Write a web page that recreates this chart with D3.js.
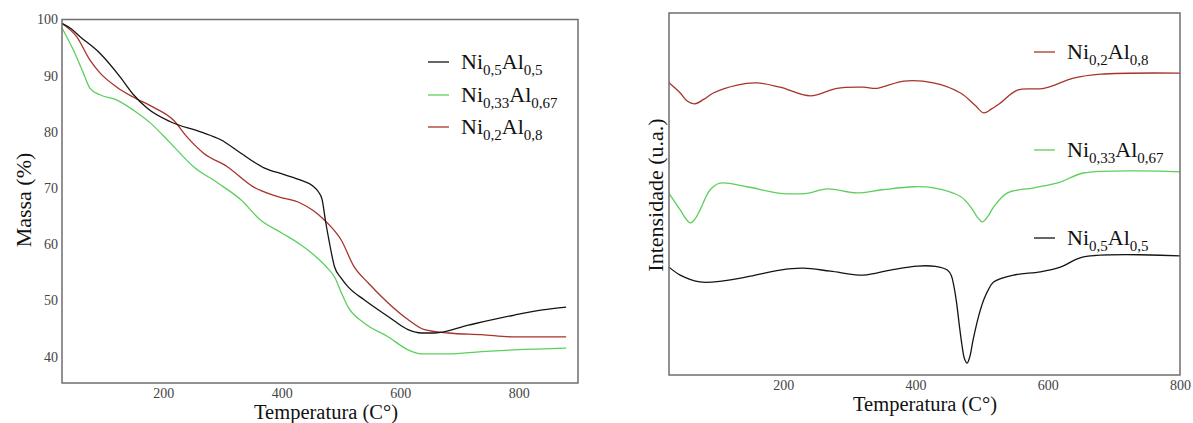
<!DOCTYPE html>
<html>
<head>
<meta charset="utf-8">
<script src="https://cdn.jsdelivr.net/npm/d3@7"></script>
<style>
  body { margin: 0; background: #fff; }
  svg { display: block; font-family: "Liberation Serif", "Times New Roman", serif; }
</style>
</head>
<body>
<svg id="chart" width="1193" height="423"></svg>
<script>
// TGA (left): [temperatura, massa %]
const tgaNi05 = [[29,99.3],[45,98.3],[60,96.9],[93,94.0],[127,89.8],[149,86.7],[173,84.2],[212,81.8],[263,80.0],[297,78.6],[331,76.2],[370,73.6],[404,72.4],[432,71.4],[452,70.4],[462,69.3],[468,68.0],[474,64.0],[480,60.5],[489,56.0],[500,54.0],[512,52.4],[539,50.1],[580,47.1],[613,44.8],[636,44.2],[658,44.2],[715,45.6],[793,47.4],[840,48.3],[880,48.8]];
const tgaNi033 = [[29,98.5],[48,94.6],[65,90.5],[76,87.8],[93,86.6],[121,85.7],[149,83.9],[178,81.6],[212,78.0],[251,73.8],[292,70.9],[331,67.9],[364,64.3],[400,62.0],[432,59.9],[453,58.2],[475,56.0],[490,54.0],[500,51.5],[512,48.8],[539,46.0],[580,43.5],[613,41.2],[636,40.5],[681,40.5],[737,40.9],[793,41.2],[880,41.5]];
const tgaNi02 = [[29,99.3],[54,96.9],[76,92.8],[93,90.5],[121,88.0],[149,86.2],[183,84.4],[217,82.1],[240,79.1],[268,76.2],[308,73.8],[352,70.2],[392,68.5],[432,67.3],[453,66.0],[470,64.5],[484,63.0],[500,60.8],[522,56.0],[546,53.1],[580,49.5],[613,46.6],[641,44.8],[681,44.2],[737,43.9],[793,43.5],[880,43.5]];

// DTA (right): [temperatura, intensidade u.a.]
const dtaNi02 = [[27,80.7],[44,77.9],[55,75.6],[66,74.9],[80,76.2],[94,77.9],[130,80.1],[160,80.7],[195,79.5],[241,77.1],[281,79.2],[321,79.5],[342,79.2],[382,81.2],[427,80.7],[468,77.9],[490,74.5],[503,72.4],[515,73.5],[528,75.1],[554,78.7],[594,79.2],[639,82.0],[680,83.1],[800,83.4]];
const dtaNi033 = [[27,50.2],[44,45.6],[52,43.3],[59,42.0],[66,43.0],[74,45.6],[89,51.1],[104,53.0],[145,52.0],[195,50.2],[236,50.2],[266,51.4],[311,50.3],[347,51.1],[397,52.0],[427,51.7],[468,49.3],[485,46.0],[493,43.7],[501,42.3],[510,44.0],[518,46.4],[539,50.3],[579,51.7],[619,53.3],[654,55.8],[800,56.1]];
const dtaNi05 = [[27,29.8],[44,27.6],[74,25.7],[109,26.0],[150,27.3],[195,29.0],[230,29.5],[271,28.7],[321,27.6],[362,29.0],[403,30.1],[430,30.0],[448,29.0],[454,27.5],[458,24.5],[462,20.0],[466,14.0],[470,8.5],[474,4.5],[478,3.3],[482,5.0],[487,9.7],[495,16.0],[503,20.7],[510,23.5],[518,25.7],[548,27.6],[589,28.5],[619,29.8],[654,32.6],[800,32.9]];

const xTicks = [200, 400, 600, 800];
const massaTicks = [40, 50, 60, 70, 80, 90, 100];

const cBlack = "#141414", cGreen = "#5ccf5c", cRed = "#a8332b";

const svg = d3.select("#chart");

function frame(g, x, y) {
  g.append("rect")
    .attr("x", x.range()[0]).attr("y", y.range()[1])
    .attr("width", x.range()[1] - x.range()[0])
    .attr("height", y.range()[0] - y.range()[1])
    .attr("fill", "none").attr("stroke", "#6e6e6e").attr("stroke-width", 1.5);
}

function styleAxis(sel) {
  sel.select(".domain").remove();
  sel.selectAll("text").attr("font-size", "14px").attr("fill", "#444")
    .attr("font-family", "Liberation Serif, serif");
}

function legend(g, x0, y0, color, a, b) {
  g.append("line").attr("x1", x0).attr("x2", x0 + 21).attr("y1", y0).attr("y2", y0)
    .attr("stroke", color).attr("stroke-width", 1.3);
  const t = g.append("text").attr("x", x0 + 33).attr("y", y0 + 7)
    .attr("font-size", "22px").attr("fill", "#111");
  t.append("tspan").text("Ni");
  t.append("tspan").attr("dy", 6).attr("font-size", "15px").text(a);
  t.append("tspan").attr("dy", -6).text("Al");
  t.append("tspan").attr("dy", 6).attr("font-size", "15px").text(b);
}

// ---- Left: TGA
const xL = d3.scaleLinear().domain([29, 900]).range([62, 578]);
const yL = d3.scaleLinear().domain([35.3, 100]).range([383, 19.5]);
const gL = svg.append("g");

gL.append("g").attr("transform", "translate(0,383)")
  .call(d3.axisBottom(xL).tickValues(xTicks).tickSize(0).tickPadding(5)).call(styleAxis);
gL.append("g").attr("transform", "translate(62,0)")
  .call(d3.axisLeft(yL).tickValues(massaTicks).tickSize(0).tickPadding(4)).call(styleAxis);

const lineL = d3.line().x(d => xL(d[0])).y(d => yL(d[1])).curve(d3.curveMonotoneX);
[[tgaNi033, cGreen], [tgaNi02, cRed], [tgaNi05, cBlack]].forEach(([s, c]) => {
  gL.append("path").datum(s).attr("d", lineL).attr("fill", "none")
    .attr("stroke", c).attr("stroke-width", 1.3);
});
frame(gL, xL, yL);

gL.append("text").attr("x", 326).attr("y", 419).attr("text-anchor", "middle")
  .attr("font-size", "20.5px").attr("fill", "#111").text("Temperatura (C°)");
gL.append("text").attr("transform", "translate(31,200) rotate(-90)").attr("text-anchor", "middle")
  .attr("font-size", "22px").attr("fill", "#111").text("Massa (%)");

legend(gL, 428, 62, cBlack, "0,5", "0,5");
legend(gL, 428, 95, cGreen, "0,33", "0,67");
legend(gL, 428, 127, cRed, "0,2", "0,8");

// ---- Right: DTA
const xR = d3.scaleLinear().domain([27, 800]).range([669, 1180]);
const yR = d3.scaleLinear().domain([0, 100]).range([375, 13]);
const gR = svg.append("g");

gR.append("g").attr("transform", "translate(0,375)")
  .call(d3.axisBottom(xR).tickValues(xTicks).tickSize(0).tickPadding(5)).call(styleAxis);

const lineR = d3.line().x(d => xR(d[0])).y(d => yR(d[1])).curve(d3.curveCatmullRom.alpha(0.5));
[[dtaNi02, cRed], [dtaNi033, cGreen], [dtaNi05, cBlack]].forEach(([s, c]) => {
  gR.append("path").datum(s).attr("d", lineR).attr("fill", "none")
    .attr("stroke", c).attr("stroke-width", 1.3);
});
frame(gR, xR, yR);

gR.append("text").attr("x", 925).attr("y", 411).attr("text-anchor", "middle")
  .attr("font-size", "20.5px").attr("fill", "#111").text("Temperatura (C°)");
gR.append("text").attr("transform", "translate(663,195) rotate(-90)").attr("text-anchor", "middle")
  .attr("font-size", "22px").attr("fill", "#111").text("Intensidade (u.a.)");

legend(gR, 1034, 52, cRed, "0,2", "0,8");
legend(gR, 1034, 150, cGreen, "0,33", "0,67");
legend(gR, 1034, 238, cBlack, "0,5", "0,5");
</script>
</body>
</html>
